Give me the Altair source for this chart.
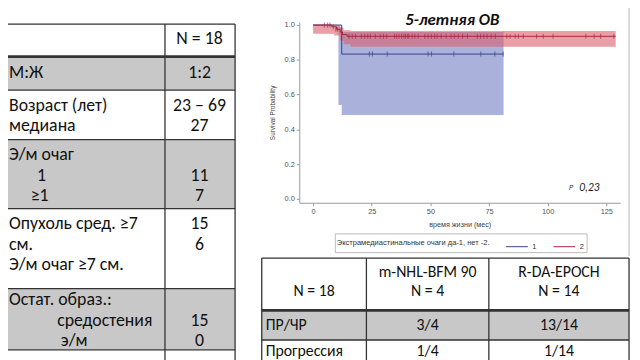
import altair as alt
import pandas as pd

# ---------------- data ----------------
left_head_value = "N = 18"
left_labels = [
    ["М:Ж"],
    ["Возраст (лет)", "медиана"],
    ["Э/м очаг", "1", "≥1"],
    ["Опухоль сред. ≥7", "см.", "Э/м очаг ≥7 см."],
    ["Остат. образ.:", "средостения", "э/м"],
]
left_values = [
    ["1:2"],
    ["23 – 69", "27"],
    ["", "11", "7"],
    ["15", "6", ""],
    ["", "15", "0"],
]
right_header = [["", "N = 18"], ["m-NHL-BFM 90", "N = 4"], ["R-DA-EPOCH", "N = 14"]]
right_row_labels = ["ПР/ЧР", "Прогрессия"]
right_col2 = ["3/4", "1/4"]
right_col3 = ["13/14", "1/14"]

km_title = "5-летняя ОВ"
legend_title = "Экстрамедиастинальные очаги да-1, нет -2."
p_label = "P"
p_value = "0,23"

# Kaplan-Meier, group 1 (blue) and group 2 (red)
g1_t = [0, 12.2, 81.2]
g1_s = [1.0, 0.833, 0.833]
g1_band_t = [10.8, 12.2, 81.2]
g1_band_lo = [0.54, 0.483, 0.483]
g1_band_hi = [0.99, 0.96, 0.96]
g1_cens_t = [24.0, 25.3, 31.6, 49.0, 50.5, 60.0, 71.5, 77.5, 81.0]

g2_t = [0, 8, 10, 11.5, 12.5, 14.5, 129]
g2_s = [1.0, 0.99, 0.975, 0.96, 0.945, 0.935, 0.935]
g2_band_t = [0, 9, 11.5, 13, 16, 129]
g2_band_lo = [0.95, 0.94, 0.91, 0.89, 0.875, 0.875]
g2_band_hi = [1.0, 1.0, 0.985, 0.97, 0.966, 0.966]
g2_cens_t = [4.8, 6.2, 7.2, 8.6, 9.7, 10.4,
             15.3, 16.7, 18.1, 20.6, 22.0, 23.3, 24.4, 26.5, 28.6, 30.0, 31.4,
             34.7, 35.6, 36.6, 37.7, 38.7, 39.4, 40.3, 40.8, 42.2, 43.4, 44.8,
             47.6, 49.0, 50.4, 51.8, 52.9, 54.6, 56.7, 58.8, 60.2, 61.9, 63.7,
             65.8, 70.0, 71.4, 72.8, 74.2, 75.9, 77.7, 82.6, 84.0, 86.1, 87.5,
             89.6, 95.3, 98.1, 102.3, 116.3, 119.8, 122.6, 128.2]
g2_cens_s = [1.0, 1.0, 1.0, 0.99, 0.975, 0.975] + [0.935] * 52

# ---------------- style / layout ----------------
GRAY = "#c8c8c8"
LINE = "#333333"
BLUE = "#34418a"
RED = "#a8283e"
TFONT = "Carlito, Lato, 'Open Sans', sans-serif"
KFONT = "Liberation Sans, Arial, sans-serif"
LSIZE = 18
RSIZE = 16

W, H, OFF = 632, 352, 8
SX = alt.Scale(domain=[0, 640], range=[-OFF, 640 - OFF], nice=False, zero=False)
SY = alt.Scale(domain=[0, 360], range=[-OFF, 360 - OFF], nice=False, zero=False)

L_ROW_EDGES = [22, 55, 89, 139, 209, 290, 352, 372]
L_ROW_FILL = ["white", GRAY, "white", GRAY, "white", GRAY, "white"]
L_X0, L_XDIV, L_X1 = 0, 167, 238
L_HEAD_Y = 37
L_TEXT_TOP = [72, 105, 155, 225, 302]
LINE_GAP = 20.5
L_LABEL_X = 9
L_VALUE_X = 202
L_SPECIAL = {(2, 1): 42, (2, 2): 40, (4, 1): 106, (4, 2): 75}

R_COL_EDGES = [265, 371, 495, 637]
R_ROW_EDGES = [259, 312, 342, 372]
R_ROW_FILL = ["white", GRAY, "white"]
R_HEAD_Y = [273, 292]
R_BODY_Y = [327, 353]
R_CENTERS = [318, 433, 566]
R_LABEL_X = 269

# ---------------- slide-layer tables ----------------
rects, rules, txt_l_left, txt_l_center, txt_r_left, txt_r_center = [], [], [], [], [], []
for i, f in enumerate(L_ROW_FILL):
    rects.append(dict(x=L_X0, x2=L_X1, y=L_ROW_EDGES[i], y2=L_ROW_EDGES[i + 1], fill=f))
for i, f in enumerate(R_ROW_FILL):
    rects.append(dict(x=R_COL_EDGES[0], x2=R_COL_EDGES[-1], y=R_ROW_EDGES[i], y2=R_ROW_EDGES[i + 1], fill=f))

for i, e in enumerate(L_ROW_EDGES[:-1]):
    rules.append(dict(x=L_X0, x2=L_X1, y=e, y2=e, w=2.6 if i == 1 else 1.3, c=LINE))
for xv in [L_XDIV, L_X1]:
    rules.append(dict(x=xv, x2=xv, y=L_ROW_EDGES[0], y2=L_ROW_EDGES[-1], w=1.3, c=LINE))
for i, e in enumerate(R_ROW_EDGES[:-1]):
    rules.append(dict(x=R_COL_EDGES[0], x2=R_COL_EDGES[-1], y=e, y2=e, w=2.6 if i == 1 else 1.3, c=LINE))
for xv in R_COL_EDGES:
    rules.append(dict(x=xv, x2=xv, y=R_ROW_EDGES[0], y2=R_ROW_EDGES[-1], w=1.3, c=LINE))
rules.append(dict(x=637, x2=637, y=0, y2=257, w=1.5, c="#cfcfcf"))

txt_l_center.append(dict(x=L_VALUE_X, y=L_HEAD_Y, text=left_head_value))
for r, lines in enumerate(left_labels):
    for i, t in enumerate(lines):
        y = L_TEXT_TOP[r] + i * LINE_GAP
        if (r, i) in L_SPECIAL:
            txt_l_center.append(dict(x=L_SPECIAL[(r, i)], y=y, text=t))
        else:
            txt_l_left.append(dict(x=L_LABEL_X, y=y, text=t))
for r, lines in enumerate(left_values):
    for i, t in enumerate(lines):
        if t:
            txt_l_center.append(dict(x=L_VALUE_X, y=L_TEXT_TOP[r] + i * LINE_GAP, text=t))

for c, lines in enumerate(right_header):
    for i, t in enumerate(lines):
        if t:
            txt_r_center.append(dict(x=R_CENTERS[c], y=R_HEAD_Y[i], text=t))
for r, lab in enumerate(right_row_labels):
    txt_r_left.append(dict(x=R_LABEL_X, y=R_BODY_Y[r], text=lab))
    txt_r_center.append(dict(x=R_CENTERS[1], y=R_BODY_Y[r], text=right_col2[r]))
    txt_r_center.append(dict(x=R_CENTERS[2], y=R_BODY_Y[r], text=right_col3[r]))


def sx(f="x"):
    return alt.X(f"{f}:Q", scale=SX, axis=None)


def sy(f="y"):
    return alt.Y(f"{f}:Q", scale=SY, axis=None)


def text_layer(rows, align, size):
    return alt.Chart(pd.DataFrame(rows)).mark_text(
        align=align, baseline="middle", font=TFONT, fontSize=size, color="#111").encode(
        x=sx(), y=sy(), text="text:N")


rect_layer = alt.Chart(pd.DataFrame(rects)).mark_rect(strokeWidth=0).encode(
    x=sx(), x2="x2:Q", y=sy(), y2="y2:Q", fill=alt.Fill("fill:N", scale=None))
rule_layer = alt.Chart(pd.DataFrame(rules)).mark_rule().encode(
    x=sx(), x2="x2:Q", y=sy(), y2="y2:Q",
    strokeWidth=alt.StrokeWidth("w:Q", scale=None), color=alt.Color("c:N", scale=None))
title_layer = alt.Chart(pd.DataFrame([dict(x=458, y=18, text=km_title)])).mark_text(
    align="center", baseline="middle", font=TFONT, fontSize=17, fontWeight="bold",
    fontStyle="italic", color="#111").encode(x=sx(), y=sy(), text="text:N")

slide = alt.layer(rect_layer, rule_layer,
                  text_layer(txt_l_left, "left", LSIZE), text_layer(txt_l_center, "center", LSIZE),
                  text_layer(txt_r_left, "left", RSIZE), text_layer(txt_r_center, "center", RSIZE),
                  title_layer)

# ---------------- Kaplan-Meier layer ----------------
KX = alt.Scale(domain=[-5.9, 130.9], range=[295, 620], nice=False, zero=False)
KY = alt.Scale(domain=[-0.0227, 1.017], range=[195, 12], nice=False, zero=False)
AX = alt.Axis(orient="bottom", offset=-(H - 195), values=[0, 25, 50, 75, 100, 125],
              grid=False, title="время жизни (мес)", titleFont=KFONT, titleFontSize=7.3,
              titleFontWeight="normal", titleColor="#444", titlePadding=6,
              labelFont=KFONT, labelFontSize=7.5, labelColor="#555", tickSize=3,
              tickColor="#999", domainColor="#999", labelPadding=2)
AY = alt.Axis(orient="left", offset=-295, values=[0, 0.2, 0.4, 0.6, 0.8, 1.0], format=".1f",
              grid=False, title="Survival Probability", titleFont=KFONT, titleFontSize=6.5,
              titleFontWeight="normal", titleColor="#444", titlePadding=9,
              labelFont=KFONT, labelFontSize=7.5, labelColor="#555", tickSize=3,
              tickColor="#999", domainColor="#999", labelPadding=2)


def kx():
    return alt.X("t:Q", scale=KX, axis=AX)


def ky():
    return alt.Y("s:Q", scale=KY, axis=AY)


band1 = alt.Chart(pd.DataFrame(dict(t=g1_band_t, s=g1_band_lo, s2=g1_band_hi))).mark_area(
    interpolate="step-after", color="#8d98d0", opacity=0.75).encode(x=kx(), y=ky(), y2="s2:Q")
band2 = alt.Chart(pd.DataFrame(dict(t=g2_band_t, s=g2_band_lo, s2=g2_band_hi))).mark_area(
    interpolate="step-after", color="#d95f6a", opacity=0.6).encode(x=kx(), y=ky(), y2="s2:Q")

lines_df = pd.concat([
    pd.DataFrame(dict(t=g1_t, s=g1_s, group="1")),
    pd.DataFrame(dict(t=g2_t, s=g2_s, group="2")),
])
lines = alt.Chart(lines_df).mark_line(interpolate="step-after", strokeWidth=1).encode(
    x=kx(), y=ky(), detail="group:N",
    color=alt.Color("group:N", scale=alt.Scale(domain=["1", "2"], range=[BLUE, RED]),
                    legend=alt.Legend(orient="none", legendX=331, legendY=226,
                                      direction="horizontal", title=legend_title,
                                      titleOrient="left", titleFont=KFONT, titleFontSize=7.6,
                                      titleFontWeight="normal", titleColor="#333",
                                      titlePadding=16, titleLimit=400,
                                      labelFont=KFONT, labelFontSize=7.5, labelColor="#333",
                                      symbolType="stroke", symbolSize=484, symbolStrokeWidth=1,
                                      strokeColor="#bbbbbb", padding=2, columnPadding=14,
                                      labelOffset=4)))
ticks1 = alt.Chart(pd.DataFrame(dict(t=g1_cens_t, s=[0.833] * len(g1_cens_t)))).mark_tick(
    orient="vertical", size=5, thickness=1, color=BLUE).encode(x=kx(), y=ky())
ticks2 = alt.Chart(pd.DataFrame(dict(t=g2_cens_t, s=g2_cens_s))).mark_tick(
    orient="vertical", size=5, thickness=1, color=RED).encode(x=kx(), y=ky())
ptxt1 = alt.Chart(pd.DataFrame(dict(t=[110], s=[0.0625], text=[p_label]))).mark_text(
    align="center", baseline="middle", font=KFONT, fontSize=6.5, fontStyle="italic",
    color="#222").encode(x=kx(), y=ky(), text="text:N")
ptxt2 = alt.Chart(pd.DataFrame(dict(t=[113.5], s=[0.0625], text=[p_value]))).mark_text(
    align="left", baseline="middle", font=TFONT, fontSize=11.5, fontStyle="italic",
    color="#222").encode(x=kx(), y=ky(), text="text:N")

km = alt.layer(band1, band2, lines, ticks1, ticks2, ptxt1, ptxt2)

chart = alt.layer(km, slide).resolve_scale(x="independent", y="independent").properties(
    width=W, height=H, autosize=alt.AutoSizeParams(type="none"), padding=0,
    background="white").configure_view(stroke=None)

chart.save("out.html", embed_options={"renderer": "svg", "actions": False})
